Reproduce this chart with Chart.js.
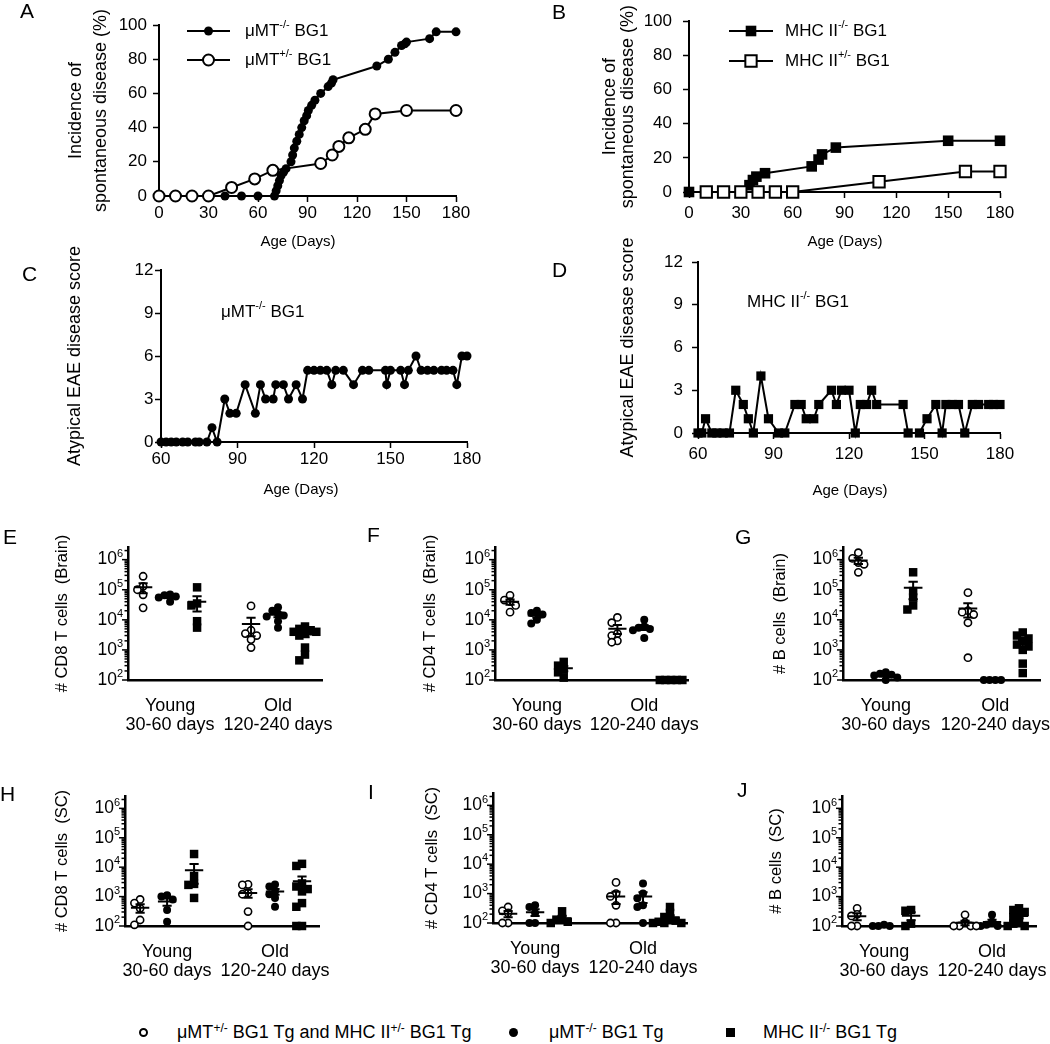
<!DOCTYPE html>
<html>
<head>
<meta charset="utf-8">
<title>Spontaneous disease and CNS infiltrates in BG1 mice</title>
<script src="https://cdn.jsdelivr.net/npm/chart.js@4.4.1/dist/chart.umd.min.js"></script>
<style>
  html, body { margin: 0; padding: 0; background: #fff; }
  #fig { position: relative; width: 1050px; height: 1044px; overflow: hidden;
         font-family: "Liberation Sans", Arial, Helvetica, sans-serif; color: #000; }
  #fig canvas { position: absolute; }
  .panel-letter { position: absolute; font-size: 21px; line-height: 21px; }
  .key-text { position: absolute; top: 1022px; font-size: 18px; line-height: 20px; white-space: nowrap; }
  .key-text sup { font-size: 12px; line-height: 0; vertical-align: 6px; }
  .key-mark { position: absolute; top: 1028px; width: 9px; height: 9px; box-sizing: border-box; }
</style>
</head>
<body>
<div id="fig"></div>
<script>
// ---------- values ----------

// A: incidence of spontaneous disease (%) by age (days)
const ageA_ko  = [0, 10, 20, 30, 40, 50, 60, 70, 71, 72, 73, 74, 75.5, 77, 80, 81, 82, 83.5, 85, 86.5, 88, 89.5, 90.5, 92.5, 94.5, 98, 102.5, 104.5, 105.5, 132, 139, 143, 147, 149, 150, 164, 168, 180];
const incA_ko  = [0, 0, 0, 0, 0, 0, 0, 0, 3, 6, 9, 12, 14, 16, 20, 24, 28, 32, 36, 40, 44, 47, 50, 53, 56, 60, 64, 66, 68, 76, 80, 84, 88, 89, 90, 92, 96, 96];
const ageA_het = [0, 10, 20, 30, 44, 58, 69, 98, 105, 109, 115, 125, 131, 150, 180];
const incA_het = [0, 0, 0, 0, 5, 10, 15, 19, 24, 29, 34, 39, 48, 50, 50];

// B: incidence of spontaneous disease (%) by age (days)
const ageB_ko  = [0, 10, 20, 30, 35, 37, 39, 44, 71, 75, 77, 85, 150, 180];
const incB_ko  = [0, 0, 0, 0, 4, 7, 9, 11, 15, 19, 22, 26, 30, 30];
const ageB_het = [10, 20, 30, 40, 50, 60, 110, 160, 180];
const incB_het = [0, 0, 0, 0, 0, 0, 6, 12, 12];

// C: atypical EAE score, uMT-/- BG1
const dayC   = [60, 62, 64, 66, 68.5, 70.5, 73.5, 75, 78, 80, 82, 85, 87, 89.5, 93, 97, 99, 101, 104, 105, 108, 110, 113, 115.5, 117.5, 120, 122.5, 125, 127, 128.5, 131.5, 135.5, 139, 141.5, 148, 148.5, 150, 154, 155.5, 157, 160, 162, 164.5, 167, 170, 172, 174.5, 176, 178, 180];
const scoreC = [0, 0, 0, 0, 0, 0, 0, 0, 0, 1, 0, 3, 2, 2, 4, 2, 4, 3, 3, 4, 4, 3, 4, 3, 5, 5, 5, 5, 4, 5, 5, 4, 5, 5, 5, 4, 5, 5, 4, 5, 6, 5, 5, 5, 5, 5, 5, 4, 6, 6];

// D: atypical EAE score, MHC II-/- BG1
const dayD   = [60, 61.5, 63, 65.5, 67.5, 70, 72.5, 75, 78, 80, 82, 85, 88, 92, 94.5, 98.5, 101, 103, 106, 108, 113, 115, 117, 120, 122.5, 124.5, 127, 129, 131, 141.5, 143.5, 148, 151, 154.5, 157, 158.5, 161, 163.5, 166, 169, 171.5, 175.5, 177.5, 180];
const scoreD = [0, 0, 1, 0, 0, 0, 0, 3, 2, 1, 0, 4, 1, 0, 0, 2, 2, 1, 1, 2, 3, 2, 3, 3, 0, 2, 2, 3, 2, 2, 0, 0, 1, 2, 0, 2, 2, 2, 0, 2, 2, 2, 2, 2];

// E-J: cells per mouse. Group order: young het, young uMT-/-, young MHC II-/-,
// old het, old uMT-/-, old MHC II-/-
const ageGroups = [['Young', '30-60 days'], ['Old', '120-240 days']];
const cd8Brain = [
  [2.8e5, 1.3e5, 1e5, 6.8e4, 2.5e4],
  [7e4, 6.5e4, 6e4, 5.5e4, 4e4],
  [1.2e5, 3.5e4, 3e4, 9e3, 5.5e3],
  [2.9e4, 4.5e3, 3.5e3, 3e3, 2.2e3, 1.2e3],
  [2.6e4, 2e4, 1.6e4, 1.4e4, 1.3e4, 9e3, 5.5e3],
  [6e3, 5e3, 4.5e3, 4e3, 4e3, 3.5e3, 3e3, 1.2e3, 7e2, 4.5e2],
];
const cd4Brain = [
  [6.5e4, 4.5e4, 4e4, 3e4, 1.8e4],
  [2e4, 1.7e4, 1.5e4, 1e4, 7.5e3],
  [4e2, 3e2, 2.2e2, 1.8e2, 1.2e2],
  [1.2e4, 8e3, 3.5e3, 3e3, 2e3, 1.8e3],
  [1e4, 6e3, 5.5e3, 5e3, 4.5e3, 2.5e3],
  [100, 100, 100, 100, 100],
];
const bBrain = [
  [1.7e6, 1.1e6, 8e5, 7e5, 3.8e5],
  [1.8e2, 1.6e2, 1.5e2, 1.4e2, 1.2e2, 1e2],
  [3.8e5, 9e4, 5.5e4, 3e4, 2.2e4],
  [8e4, 2e4, 1.8e4, 1.5e4, 8e3, 5.5e2],
  [100, 100, 100, 100],
  [3.8e3, 3e3, 2.4e3, 2e3, 1.5e3, 1.3e3, 1e3, 3.5e2, 1.7e2],
];
const cd8SC = [
  [8e2, 6e2, 4e2, 1.6e2, 1.1e2],
  [1.1e3, 1e3, 8e2, 3.5e2, 1.4e2],
  [2.8e4, 5e3, 2.7e3, 2.5e3, 9e2],
  [2.6e3, 2.5e3, 1.3e3, 1.2e3, 3.1e2, 1e2],
  [2.6e3, 2.2e3, 1.5e3, 1.2e3, 9e2, 4.5e2],
  [1.3e4, 1.1e4, 2.8e3, 2.2e3, 1.8e3, 1.5e3, 6e2, 4.5e2, 1e2, 1e2],
];
const cd4SC = [
  [3.5e2, 2.6e2, 2.2e2, 1e2, 1e2],
  [4e2, 3.5e2, 2.2e2, 1e2, 1e2],
  [2.5e2, 1.4e2, 1.3e2, 1.1e2, 1e2],
  [2.4e3, 1e3, 8e2, 4e2, 1e2, 1e2],
  [2.2e3, 1e3, 7e2, 4e2, 3.5e2, 1e2],
  [3.5e2, 2.2e2, 1.6e2, 1.3e2, 1.2e2, 1.1e2, 1e2, 1e2, 1e2],
];
const bSC = [
  [4e2, 2.5e2, 2.2e2, 1e2, 1e2],
  [1.1e2, 1e2, 1e2, 1e2],
  [3.5e2, 3.3e2, 1.2e2, 1e2],
  [2.4e2, 1.3e2, 1e2, 1e2, 1e2, 1e2],
  [2.4e2, 1.4e2, 1.1e2, 1e2, 1e2],
  [4e2, 3.5e2, 3e2, 2.5e2, 2e2, 1.5e2, 1.2e2, 1e2, 1e2],
];

// series names, [text, isSuperscript]
const legendNames = [
  [['\u03bcMT', 0], ['+/-', 1], [' BG1 Tg and MHC II', 0], ['+/-', 1], [' BG1 Tg', 0]],
  [['\u03bcMT', 0], ['-/-', 1], [' BG1 Tg', 0]],
  [['MHC II', 0], ['-/-', 1], [' BG1 Tg', 0]],
];

// ---------- helpers ----------
const FONT = '"Liberation Sans", Arial, Helvetica, sans-serif';
Chart.defaults.font.family = FONT;
Chart.defaults.font.size = 17;
Chart.defaults.color = '#000';

const fig = document.getElementById('fig');
const GROUP_X = [1, 2, 3, 5, 6, 7];
const AGE_X = [2, 6];
const LOG_MAX = Math.pow(10, 6.42);

const MK = {
  circleOpen: { style: 'circle', r: 5.5, fill: '#fff', bw: 2 },
  circleFill: { style: 'circle', r: 4.5, fill: '#000', bw: 0 },
  squareOpen: { style: 'rect', r: 8, fill: '#fff', bw: 2 },
  squareFill: { style: 'rect', r: 7.5, fill: '#000', bw: 0 },
  smallOpen: { style: 'circle', r: 3.6, fill: '#fff', bw: 1.6 },
  smallFill: { style: 'circle', r: 4, fill: '#000', bw: 0 },
  smallSquare: { style: 'rect', r: 6, fill: '#000', bw: 0 },
};

function addCanvas(box) {
  const c = document.createElement('canvas');
  c.width = box.w;
  c.height = box.h;
  c.style.left = box.left + 'px';
  c.style.top = box.top + 'px';
  c.style.width = box.w + 'px';
  c.style.height = box.h + 'px';
  fig.appendChild(c);
  return c;
}

const pts = (xs, ys) => xs.map((x, i) => ({ x, y: ys[i] }));

function pointOpts(m) {
  return {
    pointStyle: m.style,
    pointRadius: m.r,
    pointHoverRadius: m.r,
    pointBackgroundColor: m.fill,
    pointBorderColor: '#000',
    pointBorderWidth: m.bw,
  };
}

function lineSeries(data, m) {
  return Object.assign({
    data, showLine: true, borderColor: '#000', borderWidth: 2, tension: 0, clip: false,
  }, pointOpts(m));
}

// text with superscript pieces
function richText(ctx, x, y, parts, size, align) {
  const sup = Math.round(size * 0.65);
  let w = 0;
  parts.forEach(([t, s]) => {
    ctx.font = `${s ? sup : size}px ${FONT}`;
    w += ctx.measureText(t).width;
  });
  let cx = align === 'right' ? x - w : x;
  ctx.fillStyle = '#000';
  ctx.textAlign = 'left';
  ctx.textBaseline = 'middle';
  parts.forEach(([t, s]) => {
    ctx.font = `${s ? sup : size}px ${FONT}`;
    ctx.fillText(t, cx, s ? y - size * 0.33 : y);
    cx += ctx.measureText(t).width;
  });
}

function drawMark(ctx, m, x, y) {
  ctx.beginPath();
  if (m.style === 'rect') {
    const h = m.r * Math.SQRT1_2;
    ctx.rect(x - h, y - h, 2 * h, 2 * h);
  } else {
    ctx.arc(x, y, m.r, 0, Math.PI * 2);
  }
  ctx.fillStyle = m.fill;
  ctx.fill();
  if (m.bw) {
    ctx.lineWidth = m.bw;
    ctx.strokeStyle = '#000';
    ctx.stroke();
  }
}

// axis titles drawn by hand so long rotated titles are not squeezed
function drawTitles(chart, t) {
  const { ctx, chartArea } = chart;
  ctx.save();
  ctx.fillStyle = '#000';
  ctx.textAlign = 'center';
  ctx.textBaseline = 'middle';
  if (t.x) {
    ctx.font = `${t.xSize}px ${FONT}`;
    ctx.fillText(t.x, t.xX, t.xY);
  }
  const cy = (chartArea.top + chartArea.bottom) / 2;
  ctx.font = `${t.ySize}px ${FONT}`;
  [].concat(t.y).forEach((line, i) => {
    ctx.save();
    ctx.translate(t.yX + i * (t.yGap || 0), cy);
    ctx.rotate(-Math.PI / 2);
    ctx.fillText(line, 0, 0);
    ctx.restore();
  });
  ctx.restore();
}

// in-plot key (line + marker + label), free notes and titles
function decorPlugin(titles, keys, notes) {
  return {
    id: 'decor',
    afterDraw(chart) {
      const ctx = chart.ctx;
      drawTitles(chart, titles);
      ctx.save();
      (keys || []).forEach((k) => {
        ctx.beginPath();
        ctx.moveTo(k.x1, k.y);
        ctx.lineTo(k.x2, k.y);
        ctx.lineWidth = 2;
        ctx.strokeStyle = '#000';
        ctx.stroke();
        drawMark(ctx, k.mark, (k.x1 + k.x2) / 2, k.y);
        richText(ctx, k.tx, k.y, k.parts, 17);
      });
      (notes || []).forEach((n) => richText(ctx, n.x, n.y, n.parts, 17));
      ctx.restore();
    },
  };
}

const AXIS_GRID = {
  display: true, drawOnChartArea: false, drawTicks: true,
  tickLength: 6, tickWidth: 1.5, tickColor: '#000',
};
const AXIS_BORDER = { display: true, color: '#000', width: 2 };

function linePanel(box, area, ax, datasets, plugin) {
  new Chart(addCanvas(box), {
    type: 'scatter',
    data: { datasets },
    options: {
      responsive: false,
      animation: false,
      events: [],
      layout: { autoPadding: false, padding: { left: 0, top: area.t, right: box.w - area.r, bottom: 0 } },
      plugins: { legend: { display: false }, tooltip: { enabled: false } },
      scales: {
        x: {
          type: 'linear', min: ax.x[0], max: ax.x[1],
          afterFit: (s) => { s.height = box.h - area.b; },
          ticks: { stepSize: ax.x[2], padding: ax.xPad, maxRotation: 0, autoSkip: false },
          grid: AXIS_GRID,
          border: AXIS_BORDER,
        },
        y: {
          type: 'linear', min: ax.y[0], max: ax.y[1],
          afterFit: (s) => { s.width = area.l; },
          ticks: { stepSize: ax.y[2], padding: ax.yPad },
          grid: AXIS_GRID,
          border: AXIS_BORDER,
        },
      },
    },
    plugins: [plugin],
  });
}

// spread points of one group sideways so they don't sit on each other
function swarm(vals, center) {
  const placed = [];
  const out = new Array(vals.length);
  const order = vals.map((v, i) => i).sort((a, b) => vals[b] - vals[a]);
  const steps = [0, -1, 1, -2, 2, -3, 3];
  order.forEach((i) => {
    const ly = Math.log10(vals[i]);
    for (const s of steps) {
      const x = center + s * 0.21;
      const hit = placed.some((p) => Math.abs(p.ly - ly) < 0.2 && Math.abs(p.x - x) < 0.15);
      if (!hit) {
        placed.push({ x, ly });
        out[i] = { x, y: vals[i] };
        break;
      }
    }
  });
  return out;
}

// mean +/- SEM bars, log tick marks and labels, age group labels
function dotPlugin(values, titles) {
  return {
    id: 'dots',
    afterDatasetsDraw(chart) {
      const { ctx, scales: { x, y } } = chart;
      ctx.save();
      ctx.strokeStyle = '#000';
      ctx.lineWidth = 2;
      values.forEach((vals, g) => {
        const n = vals.length;
        const mean = vals.reduce((a, b) => a + b, 0) / n;
        const sd = Math.sqrt(vals.reduce((a, b) => a + (b - mean) ** 2, 0) / (n - 1));
        const sem = sd / Math.sqrt(n);
        const cx = x.getPixelForValue(GROUP_X[g]);
        const yM = y.getPixelForValue(mean);
        const yHi = y.getPixelForValue(mean + sem);
        const yLo = y.getPixelForValue(Math.max(mean - sem, y.min));
        const wMean = x.getPixelForValue(GROUP_X[g] + 0.34) - cx;
        const wCap = x.getPixelForValue(GROUP_X[g] + 0.17) - cx;
        ctx.beginPath();
        ctx.moveTo(cx - wMean, yM); ctx.lineTo(cx + wMean, yM);
        if (sem > 0) {
          ctx.moveTo(cx, yHi); ctx.lineTo(cx, yLo);
          ctx.moveTo(cx - wCap, yHi); ctx.lineTo(cx + wCap, yHi);
          ctx.moveTo(cx - wCap, yLo); ctx.lineTo(cx + wCap, yLo);
        }
        ctx.stroke();
      });
      ctx.restore();
    },
    afterDraw(chart) {
      const { ctx, scales: { x, y }, chartArea } = chart;
      const x0 = chartArea.left;
      drawTitles(chart, titles);
      ctx.save();
      ctx.strokeStyle = '#000';
      ctx.lineWidth = 1.5;
      for (let e = 2; e <= 6; e++) {
        for (let m = 1; m <= 9; m++) {
          const v = m * Math.pow(10, e);
          if (v > y.max) break;
          const py = y.getPixelForValue(v);
          const len = m === 1 ? 6 : 3.5;
          ctx.beginPath();
          ctx.moveTo(x0 - len, py);
          ctx.lineTo(x0, py);
          ctx.stroke();
        }
        richText(ctx, x0 - 5, y.getPixelForValue(Math.pow(10, e)), [['10', 0], [String(e), 1]], 17.5, 'right');
      }
      ctx.font = `18px ${FONT}`;
      ctx.textAlign = 'center';
      ctx.textBaseline = 'middle';
      ageGroups.forEach((lines, i) => {
        const px = x.getPixelForValue(AGE_X[i]);
        lines.forEach((t, j) => ctx.fillText(t, px, chartArea.bottom + 26 + j * 19.5));
      });
      ctx.restore();
    },
  };
}

function dotPanel(box, area, values, title, titleX) {
  const kinds = [MK.smallOpen, MK.smallFill, MK.smallSquare];
  const datasets = kinds.map((m, k) => Object.assign({
    data: [k, k + 3].flatMap((g) => swarm(values[g], GROUP_X[g])),
    clip: false,
  }, pointOpts(m)));
  new Chart(addCanvas(box), {
    type: 'scatter',
    data: { datasets },
    options: {
      responsive: false,
      animation: false,
      events: [],
      layout: { autoPadding: false, padding: { left: 0, top: area.t, right: box.w - area.r, bottom: 0 } },
      plugins: { legend: { display: false }, tooltip: { enabled: false } },
      scales: {
        x: {
          type: 'linear', min: 0.44, max: 7.63,
          afterFit: (s) => { s.height = box.h - area.b; },
          ticks: { display: false },
          grid: { display: false, drawTicks: false },
          border: { display: true, color: '#000', width: 2.5 },
        },
        y: {
          type: 'logarithmic', min: 100, max: LOG_MAX,
          afterFit: (s) => { s.width = area.l; },
          ticks: { display: false },
          grid: { display: false, drawTicks: false },
          border: { display: true, color: '#000', width: 2.5 },
        },
      },
    },
    plugins: [dotPlugin(values, { y: title, yX: titleX, ySize: 16.5 })],
  });
}

// ---------- panels ----------
const incTitle = ['Incidence of', 'spontaneous disease (%)'];
const scoreTitle = 'Atypical EAE disease score';

linePanel(
  { left: 0, top: 0, w: 480, h: 260 }, { l: 159, t: 25, r: 456, b: 196 },
  { x: [0, 180, 30], y: [0, 100, 20], xPad: 1.5, yPad: 6 },
  [lineSeries(pts(ageA_het, incA_het), MK.circleOpen), lineSeries(pts(ageA_ko, incA_ko), MK.circleFill)],
  decorPlugin(
    { x: 'Age (Days)', xX: 298, xY: 242, xSize: 15, y: incTitle, yX: 76, yGap: 25, ySize: 18 },
    [
      { x1: 187, x2: 230, y: 31, mark: MK.circleFill, tx: 245, parts: [['\u03bcMT', 0], ['-/-', 1], [' BG1', 0]] },
      { x1: 187, x2: 230, y: 60, mark: MK.circleOpen, tx: 245, parts: [['\u03bcMT', 0], ['+/-', 1], [' BG1', 0]] },
    ]
  )
);

linePanel(
  { left: 520, top: 0, w: 530, h: 260 }, { l: 169, t: 21, r: 480, b: 192 },
  { x: [0, 180, 30], y: [0, 100, 20], xPad: 4.8, yPad: 11 },
  [lineSeries(pts(ageB_het, incB_het), MK.squareOpen), lineSeries(pts(ageB_ko, incB_ko), MK.squareFill)],
  decorPlugin(
    { x: 'Age (Days)', xX: 325, xY: 242, xSize: 15, y: incTitle, yX: 90, yGap: 18, ySize: 18 },
    [
      { x1: 209, x2: 253, y: 31, mark: MK.squareFill, tx: 265, parts: [['MHC II', 0], ['-/-', 1], [' BG1', 0]] },
      { x1: 209, x2: 253, y: 61, mark: MK.squareOpen, tx: 265, parts: [['MHC II', 0], ['+/-', 1], [' BG1', 0]] },
    ]
  )
);

linePanel(
  { left: 0, top: 230, w: 487, h: 275 }, { l: 161, t: 40, r: 467, b: 212 },
  { x: [60, 180, 30], y: [0, 12, 3], xPad: 1, yPad: 1.5 },
  [lineSeries(pts(dayC, scoreC), MK.circleFill)],
  decorPlugin(
    { x: 'Age (Days)', xX: 301, xY: 260, xSize: 15, y: scoreTitle, yX: 75, ySize: 18 },
    [],
    [{ x: 221, y: 82, parts: [['\u03bcMT', 0], ['-/-', 1], [' BG1', 0]] }]
  )
);

linePanel(
  { left: 520, top: 230, w: 530, h: 275 }, { l: 178, t: 32, r: 480, b: 203 },
  { x: [60, 180, 30], y: [0, 12, 3], xPad: 4.8, yPad: 9 },
  [lineSeries(pts(dayD, scoreD), { style: 'rect', r: 6.5, fill: '#000', bw: 0 })],
  decorPlugin(
    { x: 'Age (Days)', xX: 330, xY: 261, xSize: 15, y: scoreTitle, yX: 108, ySize: 18 },
    [],
    [{ x: 227, y: 72, parts: [['MHC II', 0], ['-/-', 1], [' BG1', 0]] }]
  )
);

dotPanel({ left: 0, top: 520, w: 345, h: 225 }, { l: 128, t: 27, r: 322, b: 160 }, cd8Brain, '# CD8 T cells  (Brain)', 62);
dotPanel({ left: 350, top: 520, w: 350, h: 225 }, { l: 145, t: 27, r: 338, b: 160 }, cd4Brain, '# CD4 T cells  (Brain)', 80);
dotPanel({ left: 700, top: 520, w: 350, h: 225 }, { l: 143, t: 27, r: 340, b: 160 }, bBrain, '# B cells  (Brain)', 80);
dotPanel({ left: 0, top: 770, w: 345, h: 225 }, { l: 125, t: 26, r: 319, b: 156 }, cd8SC, '# CD8 T cells  (SC)', 62);
dotPanel({ left: 350, top: 770, w: 350, h: 225 }, { l: 143, t: 23, r: 337, b: 153 }, cd4SC, '# CD4 T cells  (SC)', 82);
dotPanel({ left: 700, top: 770, w: 350, h: 225 }, { l: 142, t: 26, r: 336, b: 156 }, bSC, '# B cells  (SC)', 76);

// ---------- panel letters and shared key ----------
[['A', 20, 0], ['B', 552, 1], ['C', 22, 263], ['D', 552, 259], ['E', 3, 526],
 ['F', 367, 524], ['G', 735, 526], ['H', 0, 783], ['I', 368, 781], ['J', 737, 779]]
  .forEach(([t, x, y]) => {
    const d = document.createElement('div');
    d.className = 'panel-letter';
    d.style.left = x + 'px';
    d.style.top = y + 'px';
    d.textContent = t;
    fig.appendChild(d);
  });

const keyMarks = [
  { left: 139, css: 'border:2px solid #000;border-radius:50%;background:#fff;' },
  { left: 509, css: 'border-radius:50%;background:#000;' },
  { left: 726, css: 'background:#000;' },
];
const keyTextX = [177, 549, 763];
legendNames.forEach((parts, i) => {
  const m = document.createElement('div');
  m.className = 'key-mark';
  m.style.cssText = keyMarks[i].css + 'left:' + keyMarks[i].left + 'px;';
  fig.appendChild(m);
  const t = document.createElement('div');
  t.className = 'key-text';
  t.style.left = keyTextX[i] + 'px';
  parts.forEach(([s, sup]) => {
    const el = document.createElement(sup ? 'sup' : 'span');
    el.textContent = s;
    t.appendChild(el);
  });
  fig.appendChild(t);
});
</script>
</body>
</html>
